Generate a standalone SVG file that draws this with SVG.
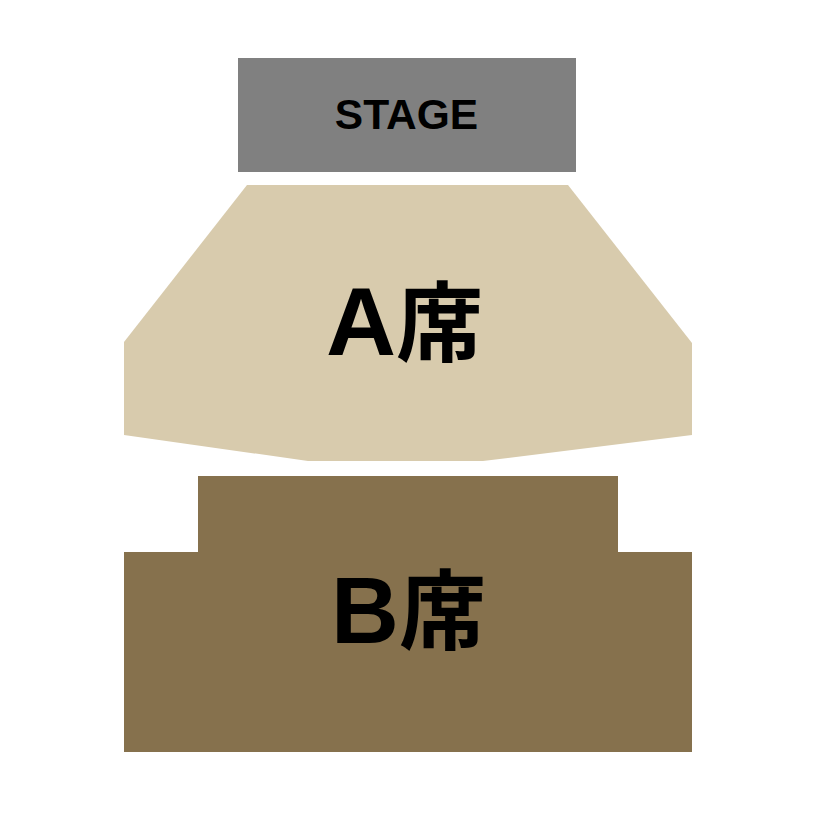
<svg xmlns="http://www.w3.org/2000/svg" width="816" height="814" viewBox="0 0 816 814">
<style>
.lbl{font-family:"Liberation Sans","Noto Sans CJK JP",sans-serif;font-weight:bold;fill:#000;}
.cjk{font-family:"Noto Sans CJK JP",sans-serif;font-weight:bold;font-size:87px;}
</style>
<rect width="816" height="814" fill="#ffffff"/>
<g id="stage">
<rect x="238" y="58" width="338" height="114" fill="#808080"/>
<text class="lbl" x="406.5" y="129" font-size="42.5" text-anchor="middle">STAGE</text>
</g>
<g id="seat-a">
<polygon points="247,185 568,185 692,343 692,435 483,461 308,461 124,435 124,342" fill="#d8cbad"/>
<text class="lbl" x="326" y="355" font-size="97">A<tspan class="cjk">席</tspan></text>
</g>
<g id="seat-b">
<polygon points="198,476 618,476 618,552 692,552 692,752 124,752 124,552 198,552" fill="#86714d"/>
<text class="lbl" x="331" y="643" font-size="94">B<tspan class="cjk">席</tspan></text>
</g>
<g id="connectors"/>
</svg>
